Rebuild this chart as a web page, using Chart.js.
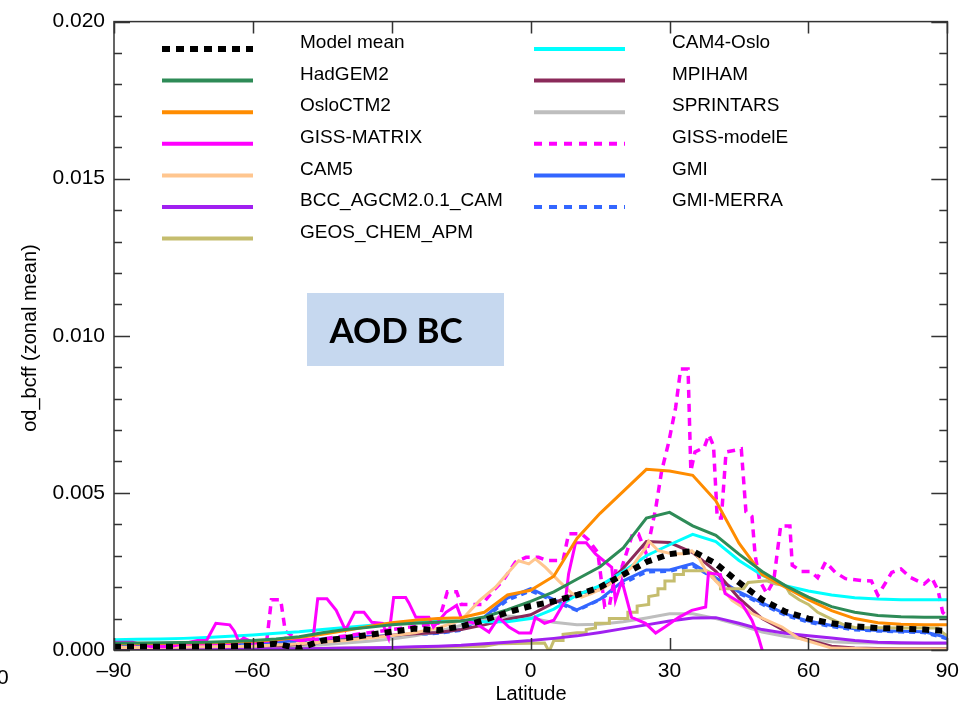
<!DOCTYPE html>
<html><head><meta charset="utf-8">
<script src="https://cdn.jsdelivr.net/npm/chart.js@4.4.1/dist/chart.umd.min.js"></script>
<style>html,body{margin:0;padding:0;background:#fff;}#wrap{width:968px;height:708px;position:relative;}</style>
</head><body><div id="wrap"><canvas id="c" width="968" height="708"></canvas></div>
<script>
// ---- data (values in units of 1e-3 optical depth) ----
const latSmooth = [-90,-85,-80,-75,-70,-65,-60,-55,-50,-45,-40,-35,-30,-25,-20,-15,-10,-5,0,5,10,15,20,25,30,35,40,45,50,55,60,65,70,75,80,85,90];
const modelMean = [0.1,0.1,0.1,0.1,0.11,0.12,0.14,0.2,0.05, 0.3,0.38,0.48,0.58,0.68,0.63,0.75,0.95,1.2, 1.4,1.55,1.75,2.0,2.4,2.8,3.05,3.15,2.75, 2.15,1.6,1.22,1.0,0.85,0.75,0.7,0.68,0.65,0.6];
const hadgem2 = [0.22,0.22,0.23,0.24,0.25,0.27,0.3,0.35,0.42, 0.55,0.65,0.72,0.8,0.85,0.88,0.92,1.05,1.28, 1.55,1.85,2.25,2.65,3.25,4.2,4.38,3.95,3.65, 3.05,2.5,2.05,1.68,1.38,1.2,1.1,1.06,1.04,1.04];
const osloctm2 = [0.2,0.2,0.21,0.22,0.23,0.25,0.28,0.33,0.4, 0.5,0.62,0.75,0.87,0.95,1.0,1.03,1.2,1.75, 1.9,2.35,3.55,4.35,5.05,5.75,5.7,5.56,4.75, 3.4,2.4,2.0,1.6,1.25,1.0,0.87,0.82,0.8,0.8];
const cam4oslo = [0.33,0.34,0.35,0.37,0.4,0.44,0.48,0.53,0.58, 0.65,0.72,0.78,0.85,0.9,0.92,0.92,0.9,0.9, 1.0,1.3,1.75,2.05,2.5,3.0,3.35,3.68,3.45, 2.85,2.38,2.05,1.88,1.75,1.66,1.62,1.6,1.6,1.6];
const mpiham = [0.03,0.03,0.04,0.05,0.06,0.08,0.1,0.13,0.18, 0.25,0.33,0.4,0.47,0.52,0.56,0.65,0.8,0.98, 1.12,1.5,1.8,1.92,2.6,3.45,3.42,3.1,2.5, 1.65,1.0,0.6,0.32,0.12,0.06,0.05,0.04,0.04,0.04];
const sprintars = [0.02,0.02,0.03,0.03,0.04,0.06,0.08,0.1,0.13, 0.17,0.22,0.28,0.35,0.45,0.6,0.78,0.95,1.08, 1.02,0.88,0.8,0.82,0.9,1.02,1.15,1.15,1.0, 0.8,0.57,0.43,0.33,0.26,0.23,0.22,0.21,0.21,0.21];
const bcc = [0.02,0.02,0.02,0.02,0.03,0.03,0.03,0.04,0.04, 0.05,0.06,0.07,0.08,0.1,0.12,0.15,0.2,0.25, 0.3,0.37,0.45,0.56,0.68,0.8,0.92,1.02,1.03, 0.85,0.65,0.53,0.45,0.38,0.3,0.25,0.23,0.22,0.22];
const gmi = [0.15,0.15,0.16,0.17,0.18,0.2,0.22,0.25,0.3, 0.35,0.4,0.43,0.45,0.5,0.55,0.65,1.05,1.65, 1.95,1.6,1.28,1.62,2.2,2.55,2.55,2.75,2.3, 1.85,1.5,1.15,0.92,0.78,0.68,0.62,0.6,0.58,0.4];
const gmiMerra = [0.14,0.14,0.15,0.16,0.17,0.19,0.21,0.24,0.28, 0.33,0.38,0.41,0.44,0.48,0.53,0.62,1.0,1.58, 1.88,1.55,1.25,1.6,2.12,2.48,2.5,2.68,2.25, 1.8,1.45,1.1,0.88,0.74,0.64,0.6,0.57,0.55,0.35];

const cam5Lat = [-90,-80,-70,-60,-50,-40,-30,-25,-20,-15,-11,-7.6,-5.4,-2.6,-0.4,1,3.2,6,8.9,11,13.2,16,18.3,21.8,24.8,25.5,27.6,30.5,33.4,34.8,36.3,37.8,40.6,43.5,47.8,54.3,57.8,65,75,90];
const cam5 = [0.08,0.08,0.1,0.12,0.2,0.3,0.45,0.55,0.7,0.95,1.58,2.0,2.37,2.84,2.74,2.9,2.63,2.21,1.8,1.68,1.8,2.0,2.21,2.63,3.25,3.47,3.16,3.06,3.06,3.16,2.95,2.53,2.1,1.58,1.16,0.73,0.38,0.06,0.03,0.03];

const gissMatrixLat = [-90,-86,-82,-78,-75,-72,-70,-68,-65,-64,-63,-62,-60,-55,-53,-50,-47,-46,-44,-42,-40,-38,-36,-34.3,-32,-30.7,-29.6,-27,-26.3,-24.8,-22,-21,-18.3,-16,-14.8,-11.9,-9,-6.9,-4.7,-2.5,0,1,3,5,7.5,8.2,9.7,12,14,17.5,18.3,19.7,21.8,24.8,27,29,32,34.8,37.8,38.4,41,42,45.6,47.8,49.2,50,51];
const gissMatrix = [0.25,0.25,0.1,0.1,0.2,0.3,0.3,0.85,0.8,0.6,0.25,0.38,0.25,0.3,0.38,0.3,0.35,1.63,1.63,1.26,0.63,1.2,1.2,0.88,0.85,0.38,1.67,1.67,1.5,1.04,1.04,0.73,1.2,1.42,0.95,0.85,0.57,1.04,0.73,0.54,0.54,1.04,0.85,0.95,1.58,2.43,3.41,3.41,3.06,2.63,1.58,2.21,1.04,0.85,0.54,0.73,1.04,1.26,1.37,2.45,2.4,1.8,1.48,0.95,0.41,0.0,-0.5];

const gissModelELat = [-90,-80,-70,-64,-62,-60,-57,-56,-54,-53,-50,-45,-40,-35,-30,-25,-20,-18,-16,-15,-10.5,-8,-6,-3.3,-1,1.7,3.5,7,8.2,11,12.5,14.5,16,17,18.5,19.7,22,23.3,25,27,28.3,29.8,31.3,32.4,34,34.6,35.5,37.5,38.5,39.5,40.3,41.2,42.2,45.5,46.5,47.8,48.5,49.5,51,52.5,54,56,56.5,58.5,60.5,62,63.7,65.8,68,71.5,73.6,75,76.5,78,80,82,85,86.6,88,89,90];
const gissModelE = [0.12,0.12,0.15,0.2,0.35,0.2,0.3,1.6,1.6,0.6,0.3,0.35,0.45,0.55,0.65,0.75,0.85,1.85,1.85,1.45,1.45,1.9,2.2,2.8,2.95,2.95,2.85,2.85,3.7,3.7,3.5,3.1,1.37,1.4,2.63,2.63,3.69,3.69,3.06,4.5,5.7,6.6,7.7,8.94,8.94,5.7,6.3,6.45,6.85,6.5,4.2,4.2,6.3,6.4,4.4,4.25,3.0,2.2,1.8,2.2,3.95,3.95,2.7,2.5,2.5,2.3,2.8,2.47,2.27,2.21,2.2,1.74,2.1,2.47,2.58,2.31,2.1,2.31,1.9,1.2,1.05];

const geosLat = [-90,-70,-50,-35,-25,-15,-10,-7,3,4,5,7,7,10,12,12,14,14,17,17,21,21,23,23,25.5,25.5,27.5,27.5,29,29,31,31,33,33,38,39,40,41,41,46,47,51,53,55,56,58,60,62,65,68,70,80,88,89,90];
const geos = [0.05,0.05,0.05,0.06,0.08,0.1,0.12,0.2,0.22,-0.05,0.3,0.3,0.5,0.55,0.55,0.65,0.7,0.85,0.85,1.0,1.0,1.2,1.2,1.4,1.45,1.7,1.75,1.95,1.95,2.2,2.2,2.4,2.4,2.52,2.52,2.45,2.2,2.1,1.95,1.95,2.15,2.2,2.1,2.05,1.8,1.6,1.45,1.2,0.98,0.78,0.72,0.7,0.7,0.55,0.45];

const xTickValues = [-90,-60,-30,0,30,60,90];
const yTickValues = [0,0.005,0.010,0.015,0.020];
const seriesNames = ['Model mean','HadGEM2','OsloCTM2','GISS-MATRIX','CAM5','BCC_AGCM2.0.1_CAM','GEOS_CHEM_APM','CAM4-Oslo','MPIHAM','SPRINTARS','GISS-modelE','GMI','GMI-MERRA'];

// ---- build ----
const pts = (lat, v) => lat.map((x, i) => ({x: x, y: v[i] * 1e-3}));
const FONT = '"Liberation Sans", Arial, Helvetica, sans-serif';
const NARROW = '"Liberation Sans Narrow", "Liberation Sans", Arial, sans-serif';
function ds(label, data, color, width, dash) {
  return {label, data, borderColor: color, backgroundColor: color, borderWidth: width,
    borderDash: dash || [], pointRadius: 0, pointHoverRadius: 0, fill: false, tension: 0,
    borderCapStyle: 'butt', borderJoinStyle: 'miter'};
}
const datasets = [
  ds(seriesNames[0], pts(latSmooth, modelMean), '#000000', 6, [7,6]),
  ds(seriesNames[1], pts(latSmooth, hadgem2), '#2e8b57', 3),
  ds(seriesNames[2], pts(latSmooth, osloctm2), '#ff8c00', 3),
  ds(seriesNames[3], pts(gissMatrixLat, gissMatrix), '#ff00ff', 3),
  ds(seriesNames[4], pts(cam5Lat, cam5), '#ffc68f', 3),
  ds(seriesNames[5], pts(latSmooth, bcc), '#a020f0', 3),
  ds(seriesNames[6], pts(geosLat, geos), '#c5bd6e', 3),
  ds(seriesNames[7], pts(latSmooth, cam4oslo), '#00ffff', 3),
  ds(seriesNames[8], pts(latSmooth, mpiham), '#8b2a5a', 3),
  ds(seriesNames[9], pts(latSmooth, sprintars), '#bebebe', 3),
  ds(seriesNames[10], pts(gissModelELat, gissModelE), '#ff00ff', 3.5, [8,6]),
  ds(seriesNames[11], pts(latSmooth, gmi), '#3366ff', 3),
  ds(seriesNames[12], pts(latSmooth, gmiMerra), '#3366ff', 3, [6,5]),
];

const decor = {
  id: 'decor',
  afterDraw(chart) {
    const {ctx, chartArea: a, scales: {x, y}} = chart;
    ctx.save();
    // AOD BC box
    ctx.fillStyle = '#c6d8ef';
    ctx.fillRect(307, 293, 197, 73);
    ctx.fillStyle = '#000';
    ctx.font = 'bold 35px Lato, "Noto Sans", sans-serif';
    ctx.textAlign = 'center'; ctx.textBaseline = 'middle';
    ctx.fillText('AOD BC', 396, 332);
    // frame
    ctx.strokeStyle = '#333'; ctx.lineWidth = 1.5;
    ctx.strokeRect(a.left, a.top, a.right - a.left, a.bottom - a.top);
    ctx.beginPath();
    xTickValues.forEach(v => {
      const px = Math.round(x.getPixelForValue(v)) + 0.5;
      ctx.moveTo(px, a.bottom); ctx.lineTo(px, a.bottom - 12);
      ctx.moveTo(px, a.top); ctx.lineTo(px, a.top + 12);
    });
    for (let k = 0; k <= 20; k++) {
      const py = Math.round(y.getPixelForValue(k * 0.001)) + 0.5;
      const L = k % 5 === 0 ? 16 : 8;
      ctx.moveTo(a.left, py); ctx.lineTo(a.left + L, py);
      ctx.moveTo(a.right, py); ctx.lineTo(a.right - L, py);
    }
    ctx.stroke();
    // legend
    ctx.textAlign = 'left'; ctx.textBaseline = 'middle';
    ctx.font = '19px ' + FONT;
    chart.data.datasets.forEach((d, i) => {
      const col = i < 7 ? 0 : 1, row = i < 7 ? i : i - 7;
      const lx = col ? 534 : 162, tx = col ? 672 : 300;
      const ly = 49 + row * 31.6;
      ctx.save();
      ctx.strokeStyle = d.borderColor;
      ctx.lineWidth = i === 0 ? 6 : 4;
      ctx.setLineDash(d.borderDash.length ? (i === 0 ? [8,6] : [8,7]) : []);
      ctx.lineCap = 'butt';
      ctx.beginPath(); ctx.moveTo(lx, ly); ctx.lineTo(lx + 91, ly); ctx.stroke();
      ctx.restore();
      ctx.fillStyle = '#000';
      ctx.fillText(d.label, tx, ly - 6);
    });
    // axis titles
    ctx.fillStyle = '#000';
    ctx.font = '20px ' + NARROW;
    ctx.textAlign = 'center';
    ctx.fillText('Latitude', 531, 694);
    ctx.save();
    ctx.translate(30, 338); ctx.rotate(-Math.PI / 2);
    ctx.fillText('od_bcff (zonal mean)', 0, 0);
    ctx.restore();
    // stray clipped label at left edge
    ctx.font = '21px ' + FONT; ctx.textAlign = 'left';
    ctx.fillText('0', -3, 678);
    ctx.restore();
  }
};

new Chart(document.getElementById('c'), {
  type: 'line',
  data: {datasets},
  options: {
    responsive: false, animation: false, devicePixelRatio: 1,
    layout: {padding: {left: 0, top: 17, right: 19, bottom: 0}},
    plugins: {legend: {display: false}, tooltip: {enabled: false}, title: {display: false}},
    scales: {
      x: {type: 'linear', min: -90, max: 90,
        afterFit: s => { s.height = 58; },
        afterBuildTicks: s => { s.ticks = xTickValues.map(v => ({value: v})); },
        grid: {display: false, drawTicks: false}, border: {display: false},
        ticks: {padding: 9, color: '#000', font: {family: FONT, size: 21},
          callback: v => String(v).replace('-', '\u2013')}},
      y: {type: 'linear', min: 0, max: 0.02,
        afterFit: s => { s.width = 114; },
        afterBuildTicks: s => { s.ticks = yTickValues.map(v => ({value: v})); },
        grid: {display: false, drawTicks: false}, border: {display: false},
        ticks: {padding: 9, color: '#000', font: {family: FONT, size: 21},
          callback: v => Number(v).toFixed(3)}}
    }
  },
  plugins: [decor]
});
</script></body></html>
